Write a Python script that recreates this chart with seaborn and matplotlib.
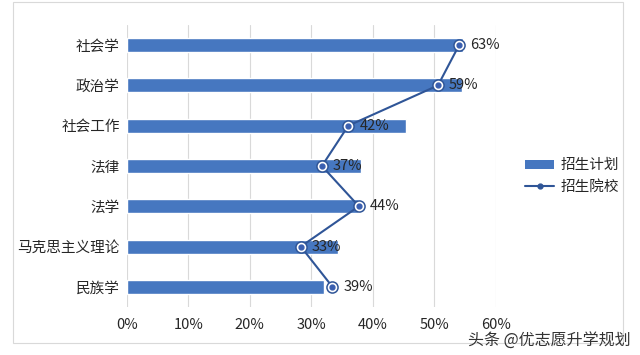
import matplotlib
matplotlib.use("Agg")

import numpy as np
import matplotlib.pyplot as plt
import seaborn as sns
from matplotlib.patches import Patch, Rectangle
from matplotlib.lines import Line2D
from matplotlib.ticker import PercentFormatter

sns.set_theme(style="white")
plt.rcParams["font.family"] = ["Noto Sans CJK SC", "DejaVu Sans"]

# data
majors = ["社会学", "政治学", "社会工作", "法律", "法学", "马克思主义理论", "民族学"]
plan = [0.546, 0.545, 0.453, 0.380, 0.375, 0.343, 0.321]     # 招生计划 (bars, bottom axis)
schools = [0.63, 0.59, 0.42, 0.37, 0.44, 0.33, 0.39]          # 招生院校 (line, hidden 0-70% axis)

bar_color = "#4677C0"
line_color = "#2F5597"

fig = plt.figure(figsize=(6.4, 3.55), dpi=100)
fig.patch.set_facecolor("white")

# chart frame
fig.patches.append(Rectangle((12.7 / 640, 12 / 355), 610 / 640, 341 / 355,
                             transform=fig.transFigure, fill=False,
                             edgecolor="#d9d9d9", linewidth=0.8, zorder=1))

ax = fig.add_axes([126.7 / 640, 48 / 355, 369.3 / 640, 282 / 355])
ax.patch.set_alpha(0)
sns.barplot(x=plan, y=majors, color=bar_color, width=0.35, saturation=1,
            orient="h", ax=ax, zorder=2)
ax.set_xlim(0, 0.6)
ax.set_ylim(6.5, -0.5)
ax.set_xticks(np.arange(0, 0.61, 0.1))
ax.xaxis.set_major_formatter(PercentFormatter(1.0, decimals=0))
ax.grid(axis="x", color="#d9d9d9", linewidth=0.8, zorder=0)
ax.set_axisbelow(True)
for s in ax.spines.values():
    s.set_visible(False)
ax.tick_params(axis="both", length=0, labelsize=10.5, colors="#262626")
ax.tick_params(axis="y", pad=5)
ax.tick_params(axis="x", pad=8)
ax.set_xlabel("")
ax.set_ylabel("")

# line on a secondary (hidden) 0-70% axis
ax2 = ax.twiny()
ypos = np.arange(len(majors))
ax2.plot(schools, ypos, color=line_color, linewidth=1.5, zorder=3)
ax2.plot(schools, ypos, linestyle="none", marker="o", markersize=8,
         markerfacecolor="white", markeredgecolor=line_color, markeredgewidth=1.1, zorder=4)
ax2.plot(schools, ypos, linestyle="none", marker="o", markersize=3.5,
         color="#3A5FB0", zorder=5)
for v, y in zip(schools, ypos):
    ax2.annotate(f"{v:.0%}", (v, y), xytext=(8, 0), textcoords="offset points",
                 ha="left", va="center", fontsize=10.5, color="#262626", zorder=6)
ax2.set_xlim(0, 0.7)
ax2.set_ylim(6.5, -0.5)
ax2.set_xticks([])
for s in ax2.spines.values():
    s.set_visible(False)

handles = [Patch(facecolor=bar_color, edgecolor="none", label="招生计划"),
           Line2D([0], [0], color=line_color, linewidth=1.5, marker="o",
                  markersize=3.5, label="招生院校")]
fig.legend(handles=handles, loc="center left", bbox_to_anchor=(512 / 640, 1 - 176 / 355),
           frameon=False, fontsize=10.5, handlelength=2.0, handleheight=0.6,
           labelspacing=0.5, handletextpad=0.4)

fig.text(631 / 640, 1 - 341 / 355, "头条 @优志愿升学规划", ha="right", va="center",
         fontsize=11.5, color="#333333")

fig.savefig("out.png", dpi=100)
